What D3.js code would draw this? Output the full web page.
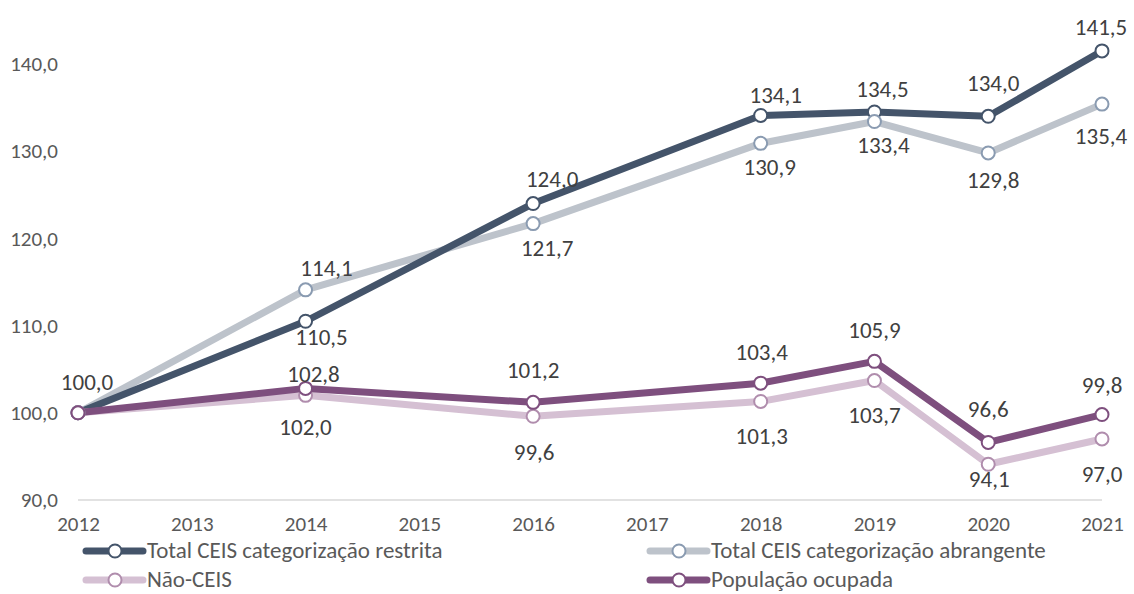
<!DOCTYPE html>
<html>
<head>
<meta charset="utf-8">
<script src="https://cdn.jsdelivr.net/npm/d3@7"></script>
<style>
  html, body { margin: 0; padding: 0; background: #fff; }
  svg { display: block; font-family: Carlito, Calibri, Lato, sans-serif; }
</style>
</head>
<body>
<svg id="chart" width="1134" height="594"></svg>
<script>
// ---------- DATA ----------
const categories = ["2012","2013","2014","2015","2016","2017","2018","2019","2020","2021"];
const dataYears = ["2012","2014","2016","2018","2019","2020","2021"];
const yTicks = [90, 100, 110, 120, 130, 140];

const restrita   = [100.0, 110.5, 124.0, 134.1, 134.5, 134.0, 141.5];
const abrangente = [100.0, 114.1, 121.7, 130.9, 133.4, 129.8, 135.4];
const naoCeis    = [100.0, 102.0,  99.6, 101.3, 103.7,  94.1,  97.0];
const popOcupada = [100.0, 102.8, 101.2, 103.4, 105.9,  96.6,  99.8];

const seriesNames = [
  "Total CEIS categorização restrita",
  "Total CEIS categorização abrangente",
  "Não-CEIS",
  "População ocupada"
];

// ---------- STYLE / LAYOUT ----------
const styles = [
  { line: "#44546A", marker: "#44546A" },
  { line: "#BDC3CB", marker: "#8A9BB1" },
  { line: "#D5C0D3", marker: "#B08DAD" },
  { line: "#7E4F7E", marker: "#7E4F7E" }
];
// label offsets (dx, dy from point) per series, null = no label
const labelOffsets = [
  [[9,-23],[16,24],[19,-17],[15,-12],[8,-15],[5,-25],[-1,-16]],
  [null,[21,-14],[14,32],[9,32],[9,31],[5,35],[-1,40]],
  [null,[0,40],[1,44],[1,43],[0,42],[1,23],[0,43]],
  [null,[8,-6],[0,-24],[1,-23],[0,-23],[0,-25],[0,-22]]
];

const allSeries = [restrita, abrangente, naoCeis, popOcupada];
const svg = d3.select("#chart");

const x = d3.scalePoint().domain(categories).range([78, 1102]);
const y = d3.scaleLinear().domain([90, 140]).range([500, 64]);

const fmt = v => d3.format(".1f")(v).replace(".", ",");

// baseline gridline at 90
svg.append("line")
  .attr("x1", x("2012")).attr("x2", x("2021"))
  .attr("y1", y(90)).attr("y2", y(90))
  .attr("stroke", "#D9D9D9").attr("stroke-width", 1.5);

// y axis labels
const yAxis = d3.axisLeft(y).tickValues(yTicks).tickFormat(fmt).tickSize(0).tickPadding(0);
const gy = svg.append("g").attr("transform", "translate(58,0)").call(yAxis);
gy.select(".domain").remove();
gy.selectAll("text").attr("font-size", 21).attr("fill", "#595959")
  .attr("font-family", "Carlito, Calibri, Lato, sans-serif");

// x axis labels
const xAxis = d3.axisBottom(x).tickSize(0).tickPadding(0);
const gx = svg.append("g").attr("transform", "translate(0,516)").call(xAxis);
gx.select(".domain").remove();
gx.selectAll("text").attr("font-size", 21).attr("fill", "#595959")
  .attr("font-family", "Carlito, Calibri, Lato, sans-serif");

const lineGen = d3.line().x(d => x(d.year)).y(d => y(d.value));
const seriesData = allSeries.map(arr => arr.map((v, i) => ({ year: dataYears[i], value: v })));

// lines
const lineOrder = [1, 0, 2, 3];
lineOrder.forEach(si => {
  svg.append("path")
    .datum(seriesData[si])
    .attr("d", lineGen)
    .attr("fill", "none")
    .attr("stroke", styles[si].line)
    .attr("stroke-width", 7)
    .attr("stroke-linejoin", "round");
});

// markers
const markerOrder = [0, 1, 2, 3];
markerOrder.forEach(si => {
  svg.append("g").selectAll("circle")
    .data(seriesData[si])
    .join("circle")
    .attr("cx", d => x(d.year))
    .attr("cy", d => y(d.value))
    .attr("r", 6.5)
    .attr("fill", "#fff")
    .attr("stroke", styles[si].marker)
    .attr("stroke-width", 2);
});

// data labels
allSeries.forEach((arr, si) => {
  svg.append("g").selectAll("text")
    .data(seriesData[si].filter((d, i) => labelOffsets[si][i]))
    .join("text")
    .attr("x", d => x(d.year) + labelOffsets[si][dataYears.indexOf(d.year)][0])
    .attr("y", d => y(d.value) + labelOffsets[si][dataYears.indexOf(d.year)][1])
    .attr("text-anchor", "middle")
    .attr("font-size", 23)
    .attr("fill", "#404040")
    .text(d => fmt(d.value));
});

// legend
const legendPos = [[86, 551], [650, 551], [86, 580], [650, 580]];
seriesNames.forEach((name, si) => {
  const [lx, ly] = legendPos[si];
  const g = svg.append("g");
  g.append("line").attr("x1", lx).attr("x2", lx + 57).attr("y1", ly).attr("y2", ly)
    .attr("stroke", styles[si].line).attr("stroke-width", 7).attr("stroke-linecap", "round");
  g.append("circle").attr("cx", lx + 29).attr("cy", ly).attr("r", 6.5)
    .attr("fill", "#fff").attr("stroke", styles[si].marker).attr("stroke-width", 2);
  g.append("text").attr("x", lx + 61).attr("y", ly + 7)
    .attr("font-size", 23).attr("fill", "#595959").text(name);
});
</script>
</body>
</html>
